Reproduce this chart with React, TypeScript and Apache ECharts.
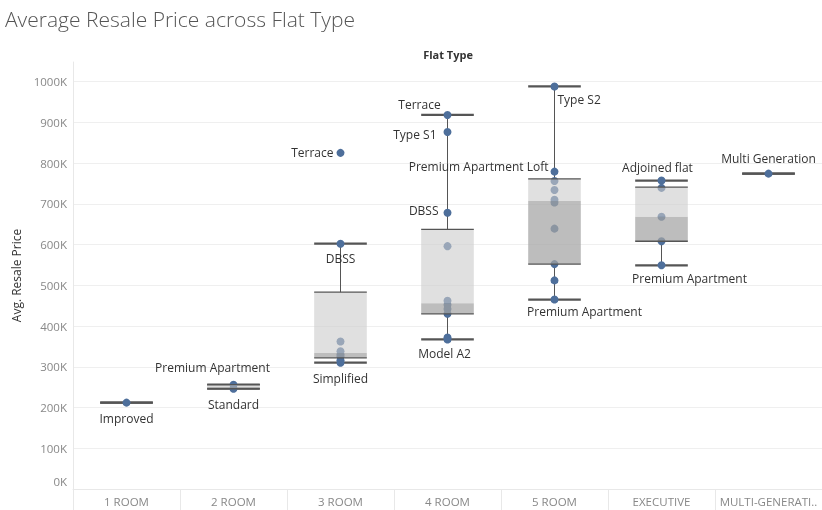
import React, { useEffect, useRef } from 'react';
import * as echarts from 'echarts';

const FONT = '"Open Sans", "Noto Sans", sans-serif';

const categories = ['1 ROOM', '2 ROOM', '3 ROOM', '4 ROOM', '5 ROOM', 'EXECUTIVE', 'MULTI-GENERATION'];

// Average resale price per flat model, for each flat type
const room1Prices = [212000];
const room1Models = ['Improved'];
const room2Prices = [256000, 246000];
const room2Models = ['Premium Apartment', 'Standard'];
const room3Prices = [825000, 602000, 362000, 338000, 330000, 325000, 316000, 310000];
const room3Models = ['Terrace', 'DBSS', '', '', '', '', '', 'Simplified'];
const room4Prices = [918000, 876000, 678000, 596000, 462000, 452000, 442000, 430000, 372000, 367000];
const room4Models = ['Terrace', 'Type S1', 'DBSS', '', '', '', '', '', '', 'Model A2'];
const room5Prices = [988000, 779000, 756000, 734000, 710000, 703000, 639000, 552000, 512000, 465000];
const room5Models = ['Type S2', 'Premium Apartment Loft', '', '', '', '', '', '', '', 'Premium Apartment'];
const executivePrices = [757000, 739000, 668000, 608000, 549000];
const executiveModels = ['Adjoined flat', '', '', '', 'Premium Apartment'];
const multiGenPrices = [774000];
const multiGenModels = ['Multi Generation'];

// Box plot statistics per flat type
const lowWhiskers = [212000, 246000, 310000, 367000, 465000, 549000, 774000];
const q1s = [212000, 246000, 322000, 430000, 552000, 608000, 774000];
const medians = [212000, 251000, 334000, 456000, 707000, 668000, 774000];
const q3s = [212000, 256000, 483000, 637000, 761000, 741000, 774000];
const highWhiskers = [212000, 256000, 602000, 918000, 988000, 757000, 774000];

const yTicks = [0, 100000, 200000, 300000, 400000, 500000, 600000, 700000, 800000, 900000, 1000000];

const pricesByType = [room1Prices, room2Prices, room3Prices, room4Prices, room5Prices, executivePrices, multiGenPrices];
const modelsByType = [room1Models, room2Models, room3Models, room4Models, room5Models, executiveModels, multiGenModels];

const labelPlacement: Record<string, any> = {
  '0|Improved': { position: 'bottom', distance: 6 },
  '1|Premium Apartment': { position: 'top', distance: 7, offset: [-21, 0] },
  '1|Standard': { position: 'bottom', distance: 6 },
  '2|Terrace': { position: 'left', distance: 3 },
  '2|DBSS': { position: 'bottom', distance: 5 },
  '2|Simplified': { position: 'bottom', distance: 6 },
  '3|Terrace': { position: 'top', distance: 0, offset: [-28, 0] },
  '3|Type S1': { position: 'left', distance: 7, offset: [0, 2] },
  '3|DBSS': { position: 'left', distance: 5, offset: [0, -2] },
  '3|Model A2': { position: 'bottom', distance: 4, offset: [-3, 0] },
  '4|Type S2': { position: 'right', distance: -1, offset: [0, 13] },
  '4|Premium Apartment Loft': { position: 'left', distance: 2, offset: [0, -5] },
  '4|Premium Apartment': { position: 'bottom', distance: 2, offset: [30, 0] },
  '5|Adjoined flat': { position: 'top', distance: 3, offset: [-4, 0] },
  '5|Premium Apartment': { position: 'bottom', distance: 3, offset: [28, 0] },
  '6|Multi Generation': { position: 'top', distance: 5 },
};

const LINE = '#555555';

export default function App() {
  const ref = useRef<HTMLDivElement>(null);
  useEffect(() => {
    if (!ref.current) return;
    const chart = echarts.init(ref.current, null, { renderer: 'svg' });

    const points: any[] = [];
    pricesByType.forEach((prices, ci) => {
      prices.forEach((p, i) => {
        const name = modelsByType[ci][i];
        const place = labelPlacement[ci + '|' + name];
        points.push({
          name,
          value: [ci, p],
          label: name
            ? { show: true, formatter: '{b}', ...place }
            : { show: false },
        });
      });
    });

    const boxRows = categories.map((_, i) => [i, lowWhiskers[i], q1s[i], medians[i], q3s[i], highWhiskers[i]]);

    const geom = (api: any) => {
      const x = api.value(0);
      const cx = api.coord([x, 0])[0];
      const half = api.size([1, 0])[0] * 0.246;
      const y = (k: number) => api.coord([x, api.value(k)])[1];
      return { cx, half, yLow: y(1), yQ1: y(2), yMed: y(3), yQ3: y(4), yHigh: y(5) };
    };

    const option: any = {
      animation: false,
      textStyle: { fontFamily: FONT },
      title: {
        text: 'Average Resale Price across Flat Type',
        left: 5,
        top: 8,
        padding: 0,
        textStyle: { fontSize: 21, fontWeight: 300, color: '#555555', fontFamily: FONT },
      },
      graphic: [
        {
          type: 'text',
          x: 448,
          y: 54,
          style: {
            text: 'Flat Type',
            fill: '#333333',
            font: `bold 11px ${FONT}`,
            align: 'center',
            verticalAlign: 'middle',
          },
        },
      ],
      grid: { left: 73, right: 0, top: 62, bottom: 21 },
      xAxis: {
        type: 'category',
        data: categories,
        boundaryGap: true,
        axisLine: { show: true, lineStyle: { color: '#e8e8e8' } },
        axisTick: { show: true, length: 21, interval: 0, lineStyle: { color: '#e8e8e8' } },
        axisLabel: {
          interval: 0,
          margin: 6,
          color: '#888888',
          fontSize: 11.5,
          fontFamily: FONT,
          width: 106,
          overflow: 'truncate',
          ellipsis: '..',
        },
        splitLine: { show: false },
      },
      yAxis: {
        type: 'value',
        min: 0,
        max: 1048000,
        interval: 100000,
        name: 'Avg. Resale Price',
        nameLocation: 'middle',
        nameGap: 50,
        nameRotate: 90,
        nameTextStyle: { color: '#333333', fontSize: 12, fontFamily: FONT },
        axisLine: { show: true, lineStyle: { color: '#e8e8e8' } },
        axisTick: { show: false },
        axisLabel: {
          margin: 6,
          color: '#888888',
          fontSize: 11.5,
          fontFamily: FONT,
          showMaxLabel: false,
          formatter: (v: number) => {
            if (!yTicks.includes(v)) return '';
            return v === 0 ? '{z|0K}' : v / 1000 + 'K';
          },
          rich: {
            z: { color: '#888888', fontSize: 11.5, fontFamily: FONT, padding: [0, 0, 16, 0] },
          },
        },
        splitLine: { show: true, showMaxLine: false, lineStyle: { color: '#efefef' } },
      },
      series: [
        {
          type: 'custom',
          name: 'whiskers',
          z: 1,
          data: boxRows,
          encode: { x: 0, y: [1, 2, 3, 4, 5] },
          renderItem: (params: any, api: any) => {
            const g = geom(api);
            const children: any[] = [
              { type: 'line', shape: { x1: g.cx, y1: g.yLow, x2: g.cx, y2: g.yQ1 }, style: { stroke: LINE, lineWidth: 1 } },
              { type: 'line', shape: { x1: g.cx, y1: g.yQ3, x2: g.cx, y2: g.yHigh }, style: { stroke: LINE, lineWidth: 1 } },
              { type: 'line', shape: { x1: g.cx - g.half, y1: g.yLow, x2: g.cx + g.half, y2: g.yLow }, style: { stroke: LINE, lineWidth: 2.2 } },
              { type: 'line', shape: { x1: g.cx - g.half, y1: g.yHigh, x2: g.cx + g.half, y2: g.yHigh }, style: { stroke: LINE, lineWidth: 2.2 } },
            ];
            return { type: 'group', children };
          },
        },
        {
          type: 'scatter',
          name: 'models',
          z: 2,
          symbol: 'circle',
          symbolSize: 8,
          itemStyle: { color: '#4e6f9b', opacity: 1 },
          label: { color: '#333333', fontSize: 12, fontFamily: FONT },
          data: points,
        },
        {
          type: 'custom',
          name: 'boxes',
          z: 3,
          data: boxRows,
          encode: { x: 0, y: [1, 2, 3, 4, 5] },
          renderItem: (params: any, api: any) => {
            const g = geom(api);
            if (Math.abs(g.yQ1 - g.yQ3) < 0.5) return { type: 'group', children: [] };
            const children: any[] = [
              {
                type: 'rect',
                shape: { x: g.cx - g.half, y: g.yMed, width: g.half * 2, height: g.yQ1 - g.yMed },
                style: { fill: 'rgba(163,163,163,0.72)' },
              },
              {
                type: 'rect',
                shape: { x: g.cx - g.half, y: g.yQ3, width: g.half * 2, height: g.yMed - g.yQ3 },
                style: { fill: 'rgba(203,203,203,0.6)' },
              },
              { type: 'line', shape: { x1: g.cx - g.half, y1: g.yQ1, x2: g.cx + g.half, y2: g.yQ1 }, style: { stroke: LINE, lineWidth: 1.3 } },
              { type: 'line', shape: { x1: g.cx - g.half, y1: g.yQ3, x2: g.cx + g.half, y2: g.yQ3 }, style: { stroke: LINE, lineWidth: 1.3 } },
            ];
            return { type: 'group', children };
          },
        },
      ],
    };
    chart.setOption(option);
    return () => chart.dispose();
  }, []);
  return <div ref={ref} style={{ position: 'fixed', left: 0, top: 0, width: 822, height: 510 }} />;
}
